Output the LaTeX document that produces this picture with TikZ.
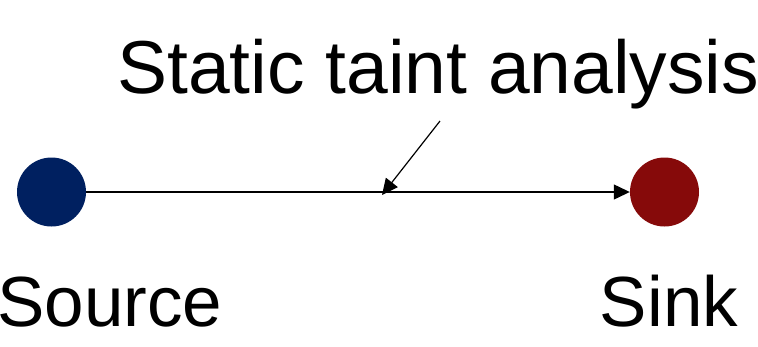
\documentclass[tikz,border=0pt]{standalone}
\usepackage{fontspec}
\setmainfont{Liberation Sans}
\usetikzlibrary{arrows.meta}
\definecolor{srcblue}{RGB}{0,32,96}
\definecolor{sinkred}{RGB}{134,10,10}
\begin{document}
\begin{tikzpicture}[x=1pt,y=-1pt,
  dot/.style={circle,minimum size=69pt,inner sep=0pt,draw=none},
  bigtext/.style={inner sep=0pt,font=\fontsize{75}{80}\selectfont},
  labeltext/.style={inner sep=0pt,font=\fontsize{71}{76}\selectfont},
  flow/.style={line width=1.2pt,-{Triangle[length=16pt,width=15pt]}}]
  \useasboundingbox (0,0) rectangle (758,346);
  % endpoints
  \node[dot,fill=srcblue] (src) at (51.5,192) {};
  \node[dot,fill=sinkred] (snk) at (664.5,192) {};
  % labels
  \node[bigtext,anchor=base west] (title) at (117,93) {Static taint analysis};
  \node[labeltext,anchor=base] (srclbl) at (110,326) {Source};
  \node[labeltext,anchor=base] (snklbl) at (669,326) {Sink};
  % flow and pointer
  \draw[flow] (src) -- (snk);
  \coordinate (ptrstart) at (440,121);
  \coordinate (ptrend) at (382,195);
  \draw[flow] (ptrstart) -- (ptrend);
\end{tikzpicture}
\end{document}
